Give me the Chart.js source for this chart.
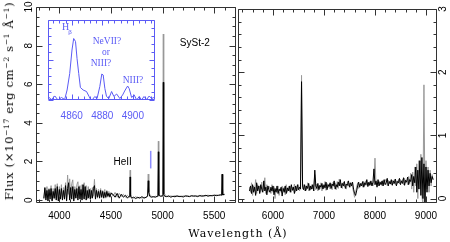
<!DOCTYPE html>
<html><head><meta charset="utf-8">
<script src="https://cdn.jsdelivr.net/npm/chart.js@4.4.0/dist/chart.umd.min.js"></script>
<style>
html,body{margin:0;padding:0;background:#fff;}
#wrap{position:relative;width:450px;height:242px;overflow:hidden;background:#fff;}
canvas{position:absolute;left:0;top:0;}
.t{position:absolute;white-space:nowrap;color:#000;font-family:'DejaVu Serif',serif;}
#ytitle{left:9px;top:101px;transform:translate(-50%,-50%) rotate(-90deg);font-size:11.5px;letter-spacing:0.7px;}
#xtitle{left:238px;top:233px;transform:translate(-50%,-50%);font-size:11px;letter-spacing:1px;}
sup{font-size:7.5px;vertical-align:0;position:relative;top:-4px;}
</style></head><body>
<div id="wrap">
<canvas id="cL" width="450" height="242"></canvas>
<canvas id="cR" width="450" height="242"></canvas>
<canvas id="cI" width="450" height="242"></canvas>
<div class="t" id="ytitle">Flux (×10<sup>−17</sup> erg cm<sup>−2</sup> s<sup>−1</sup> Å<sup>−1</sup>)</div>
<div class="t" id="xtitle">Wavelength (Å)</div>
</div>
<script>
// ---------- data: left panel (blue spectrum region) ----------
const wlLeft = [
3850,3860,3870,3880,3890,3900,3910,3920,3930,3940,
3950,3960,3970,3980,3990,4000,4010,4020,4030,4040,
4050,4060,4070,4080,4090,4100,4110,4120,4130,4140,
4150,4160,4170,4180,4190,4200,4210,4220,4230,4240,
4250,4260,4270,4280,4290,4300,4310,4320,4330,4340,
4350,4360,4370,4380,4390,4400,4410,4420,4430,4440,
4450,4460,4470,4480,4490,4500,
4520,4540,4560,4580,4600,4620,4640,4660,
4675,4682,4686,4690,
4700,4720,4740,4760,4780,4800,4820,4840,
4855,4861,4866,4875,
4890,4910,4930,4950,
4955,4959,4963,
4980,5000,
5003,5007,5011,
5020,5040,5060,5080,5100,5120,5140,5160,5180,5200,
5220,5240,5260,5280,5300,5320,5340,5360,5380,5400,
5420,5440,5460,5480,5500,5520,5540,5560,
5572,5577,5582,5600];
const fluxLeftBlack = [
0.1,0.65,0.0,0.5,-0.05,0.55,0.05,0.6,-0.05,0.45,
0.1,0.6,0.0,0.7,-0.05,0.55,0.05,0.6,0.0,0.5,
0.05,0.75,-0.05,0.6,0.9,0.0,0.65,0.05,0.7,-0.05,
0.55,0.1,0.6,0.0,0.7,0.05,0.55,0.0,0.8,0.05,
0.7,0.0,0.5,0.1,0.55,0.05,0.5,0.1,0.6,0.75,
0.05,0.5,0.15,0.45,0.1,0.5,0.15,0.45,0.1,0.4,
0.15,0.45,0.2,0.35,0.15,0.35,
0.3,0.15,0.35,0.1,0.3,0.15,0.25,0.1,
0.2,0.25,1.2,0.2,
0.1,0.15,0.08,0.15,0.1,0.18,0.1,0.15,
0.2,1.0,0.4,0.2,
0.15,0.18,0.15,0.2,
0.25,2.5,0.25,
0.2,0.22,
0.3,6.1,0.3,
0.2,0.18,0.22,0.15,0.2,0.17,0.22,0.18,0.2,0.16,
0.22,0.2,0.18,0.23,0.2,0.22,0.18,0.24,0.2,0.22,
0.25,0.2,0.24,0.22,0.26,0.23,0.25,0.27,
0.25,1.35,0.28,0.3];
const fluxLeftGray = [
0.05,0.6,0.1,0.7,0.0,0.6,0.2,0.75,0.0,0.6,
0.05,0.8,0.1,0.85,0.0,0.7,0.1,0.8,0.05,0.65,
0.15,0.9,0.0,1.3,0.3,1.1,0.1,0.85,1.05,0.05,
0.7,0.1,0.8,0.95,0.1,0.75,0.05,0.8,0.1,0.9,
0.2,0.75,0.05,0.7,0.15,0.6,0.1,0.65,0.2,1.07,
0.1,0.6,0.1,0.55,0.2,0.6,0.1,0.5,0.2,0.55,
0.1,0.5,0.15,0.45,0.2,0.4,
0.2,0.4,0.15,0.35,0.2,0.3,0.15,0.25,
0.15,0.3,1.55,0.3,
0.15,0.1,0.18,0.1,0.15,0.1,0.15,0.12,
0.25,1.35,0.45,0.3,
0.2,0.15,0.2,0.18,
0.3,3.05,0.3,
0.22,0.2,
0.35,8.6,0.35,
0.3,0.2,0.17,0.22,0.18,0.23,0.19,0.21,0.17,0.22,
0.19,0.23,0.2,0.2,0.24,0.19,0.23,0.2,0.25,0.21,
0.22,0.26,0.21,0.25,0.23,0.27,0.24,0.26,
0.28,1.3,0.26,0.28];

// ---------- data: right panel (red spectrum region) ----------
const wlRight = [
5540,5560,5580,5600,5620,5640,5660,5680,5700,5720,
5740,5760,5780,5800,5820,5840,5860,5880,5900,5920,
5940,5960,5980,6000,6020,6040,6060,6080,6100,6120,
6140,6160,6180,6200,6220,6240,6260,6280,6300,6320,
6340,6360,6380,6400,6420,6440,6460,6480,6500,6520,
6540,6560,6580,6600,6620,6640,6660,6680,6700,6720,
6740,6760,6780,6800,6820,6840,6860,6880,6900,6920,
6940,6960,6980,7000,7020,7040,7060,7080,7100,7120,
7140,7160,7180,7200,7220,7240,7260,7280,7300,7320,
7340,7360,7380,7400,7420,7440,7460,7480,7500,7520,
7540,7560,7580,7600,7620,7640,7660,7680,7700,7720,
7740,7760,7780,7800,7820,7840,7860,7880,7900,7920,
7940,7960,7980,8000,8020,8040,8060,8080,8100,8120,
8140,8160,8180,8200,8220,8240,8260,8280,8300,8320,
8340,8360,8380,8400,8420,8440,8460,8480,8500,8520,
8540,8560,8580,8600,8620,8640,8660,8680,8700,8720,
8740,8760,8780,8800,8820,8840,8860,8880,8900,8920,
8940,8960,8980,9000,9020,9040,9060,9080,9100,9120,
9140];
const fluxRightBlack = [
0.12,0.2,0.08,0.22,0.1,0.18,0.05,0.25,0.12,0.2,
0.08,0.22,0.15,0.1,0.28,0.12,0.18,0.06,0.2,0.14,
0.1,0.18,0.12,0.2,0.06,0.16,0.1,0.2,0.08,0.15,
0.12,0.18,0.04,0.16,0.1,0.2,0.08,0.17,0.12,0.2,
0.1,0.22,0.13,0.18,0.08,0.2,0.12,0.22,0.14,0.18,
0.15,1.85,0.2,0.14,0.22,0.12,0.2,0.16,0.24,0.13,
0.2,0.15,0.22,0.12,0.45,0.2,0.16,0.24,0.14,0.21,
0.18,0.24,0.15,0.22,0.17,0.26,0.14,0.22,0.19,0.25,
0.16,0.23,0.2,0.28,0.15,0.22,0.18,0.26,0.2,0.3,
0.17,0.24,0.2,0.27,0.16,0.23,0.21,0.28,0.18,0.25,
0.2,0.26,0.15,0.08,0.05,0.12,0.2,0.26,0.18,0.24,
0.2,0.27,0.18,0.25,0.22,0.3,0.19,0.26,0.21,0.28,
0.2,0.26,0.47,0.22,0.28,0.18,0.3,0.2,0.26,0.22,
0.28,0.2,0.3,0.22,0.25,0.32,0.2,0.27,0.23,0.3,
0.21,0.28,0.24,0.31,0.2,0.27,0.25,0.32,0.22,0.28,
0.24,0.33,0.21,0.29,0.26,0.34,0.22,0.3,0.27,0.38,
0.2,0.35,0.25,0.5,0.1,0.45,0.15,0.6,0.05,0.65,
0.0,0.55,-0.1,0.5,0.1,0.45,0.2,0.4,0.25,0.35,
0.3];
const fluxRightGray = [
0.18,0.1,0.25,0.05,0.2,0.12,0.3,0.08,0.22,0.15,
0.2,0.1,0.26,0.12,0.18,0.33,0.08,0.22,0.1,0.2,
0.15,0.08,0.22,0.1,0.19,0.0,0.14,0.1,0.2,0.05,
0.16,0.1,0.2,0.12,0.18,0.06,0.22,0.1,0.16,0.12,
0.2,0.1,0.18,0.14,0.23,0.1,0.19,0.13,0.22,0.12,
0.2,1.95,0.15,0.22,0.12,0.2,0.14,0.25,0.12,0.2,
0.14,0.22,0.15,0.2,0.38,0.14,0.23,0.12,0.2,0.15,
0.25,0.12,0.21,0.16,0.27,0.13,0.24,0.17,0.23,0.15,
0.24,0.14,0.26,0.18,0.25,0.14,0.27,0.16,0.31,0.2,
0.24,0.16,0.26,0.19,0.23,0.15,0.27,0.2,0.24,0.18,
0.25,0.18,0.1,0.02,0.1,0.18,0.25,0.16,0.23,0.2,
0.25,0.18,0.27,0.2,0.28,0.21,0.25,0.2,0.27,0.22,
0.25,0.2,0.3,0.64,0.22,0.26,0.2,0.28,0.22,0.27,
0.2,0.29,0.23,0.27,0.31,0.21,0.29,0.24,0.28,0.22,
0.29,0.23,0.3,0.22,0.28,0.24,0.3,0.23,0.3,0.25,
0.3,0.22,0.32,0.25,0.28,0.22,0.35,0.24,0.4,0.15,
0.42,0.1,0.5,0.2,0.55,0.0,0.6,0.15,0.7,0.05,
-0.1,1.8,-0.05,0.6,0.15,0.5,0.1,0.45,0.2,0.38,
0.3];

// ---------- data: inset (H-beta region) ----------
const wlInset = [4844.5,4846.7,4849,4851,4853.3,4855.4,4857,4858.7,4860.2,4861.3,
4862.5,4863.5,4864.6,4865.7,4867.5,4869.7,4871.4,4872.9,4875.1,4876.6,
4878.4,4879.7,4880.6,4881.7,4882.8,4884.3,4886.1,4887.6,4889.4,4891.5,
4893.3,4895,4896.6,4897.6,4899.2,4900.9,4902.5,4904.2,4905.7,4907.3,
4909,4910.7,4912.3,4913.8];
const fluxInset = [0.07,0.01,0.08,0.0,0.05,0.01,0.2,0.53,1.0,1.23,
1.17,0.83,0.53,0.25,0.2,0.17,0.07,-0.02,0.07,0.03,
0.27,0.52,0.5,0.23,0.07,0.03,0.17,0.07,0.12,0.03,
0.1,0.2,0.28,0.23,0.05,0.1,0.0,0.07,0.0,0.07,
0.01,0.08,0.03,0.05];

// blue marker of the inset region on the main plot
const markerWl = [4885, 4885];
const markerFlux = [1.64, 2.55];

// tick labels
const leftXTicks = [4000, 4500, 5000, 5500];
const leftYTicks = [0, 2, 4, 6, 8, 10];
const rightXTicks = [6000, 7000, 8000, 9000];
const rightYTicks = [0, 1, 2, 3];
const insetXTicks = [4860, 4880, 4900];

const pts = (xs, ys) => xs.map((x, i) => ({x: x, y: ys[i]}));

// ---------- plugins ----------
const framePlugin = {
  id: 'frame',
  afterDatasetsDraw(chart, args, o) {
    if (!o || !o.color) return;
    const ctx = chart.ctx, a = chart.chartArea;
    const xs = chart.scales.x, ys = chart.scales.y;
    const L = a.left + 0.5, R = a.right - 0.5, T = a.top + 0.5, B = a.bottom - 0.5;
    ctx.save();
    ctx.strokeStyle = o.color; ctx.lineWidth = 1;
    ctx.beginPath();
    ctx.rect(L, T, R - L, B - T);
    const isMul = (v, s) => Math.abs(v / s - Math.round(v / s)) < 1e-6;
    for (let k = Math.ceil(xs.min / o.xMinor - 1e-9); k * o.xMinor <= xs.max + 1e-9; k++) {
      const v = k * o.xMinor;
      const p = Math.round(xs.getPixelForValue(v)) + 0.5;
      const len = isMul(v, o.xMajor) ? o.major : o.minor;
      ctx.moveTo(p, B); ctx.lineTo(p, B - len);
      ctx.moveTo(p, T); ctx.lineTo(p, T + len);
    }
    for (let k = Math.ceil(ys.min / o.yMinor - 1e-9); k * o.yMinor <= ys.max + 1e-9; k++) {
      const v = k * o.yMinor;
      const p = Math.round(ys.getPixelForValue(v)) + 0.5;
      const len = isMul(v, o.yMajor) ? o.major : o.minor;
      ctx.moveTo(L, p); ctx.lineTo(L + len, p);
      ctx.moveTo(R, p); ctx.lineTo(R - len, p);
    }
    ctx.stroke();
    ctx.restore();
  }
};
const textPlugin = {
  id: 'notes',
  afterDatasetsDraw(chart, args, o) {
    if (!o || !o.items) return;
    const ctx = chart.ctx, xs = chart.scales.x, ys = chart.scales.y;
    ctx.save();
    o.items.forEach(it => {
      ctx.font = it.font; ctx.fillStyle = it.color;
      ctx.textAlign = 'center'; ctx.textBaseline = 'middle';
      ctx.fillText(it.text, xs.getPixelForValue(it.x), ys.getPixelForValue(it.y));
    });
    ctx.restore();
  }
};
const bgPlugin = {
  id: 'bg',
  beforeDraw(chart, args, o) {
    if (!o || !o.color) return;
    const c = chart.chartArea, ctx = chart.ctx;
    ctx.save(); ctx.fillStyle = o.color;
    ctx.fillRect(c.left, c.top, c.right - c.left, c.bottom - c.top);
    ctx.restore();
  }
};

const tickFont = {family: "'Liberation Sans', Arial, sans-serif", size: 10};
function xAxis(min, max, list, h, pad, color) {
  return {
    type: 'linear', position: 'bottom', min: min, max: max,
    afterBuildTicks: s => { s.ticks = list.map(v => ({value: v})); },
    afterFit: s => { s.height = h; },
    grid: {display: false, drawTicks: false}, border: {display: false},
    ticks: {callback: v => String(v), padding: pad, font: tickFont, color: color, maxRotation: 0, minRotation: 0, autoSkip: false}
  };
}
function yAxis(min, max, list, pos, w, pad) {
  return {
    type: 'linear', position: pos, min: min, max: max,
    afterBuildTicks: s => { s.ticks = list.map(v => ({value: v})); },
    afterFit: s => { s.width = w; },
    grid: {display: false, drawTicks: false}, border: {display: false},
    ticks: {callback: v => String(v), padding: pad, font: tickFont, color: '#000', minRotation: 90, maxRotation: 90, crossAlign: 'center', autoSkip: false}
  };
}
const common = {
  responsive: false, animation: false, events: [],
  elements: {point: {radius: 0}, line: {tension: 0, borderJoinStyle: 'miter'}},
  datasets: {line: {clip: 0}}
};

new Chart(document.getElementById('cL'), {
  type: 'line',
  data: {datasets: [
    {data: pts(wlLeft, fluxLeftBlack), borderColor: '#000', borderWidth: 1},
    {data: pts(markerWl, markerFlux), borderColor: '#8c8cff', borderWidth: 1.5},
    {data: pts(wlLeft, fluxLeftGray), borderColor: '#999', borderWidth: 1}
  ]},
  options: Object.assign({}, common, {
    layout: {padding: {left: 0, right: 214, top: 4, bottom: 0}},
    plugins: {
      legend: {display: false}, tooltip: {enabled: false},
      frame: {color: '#333', xMinor: 100, xMajor: 500, yMinor: 0.5, yMajor: 2, major: 6, minor: 3},
      notes: {items: [
        {text: 'SySt-2', x: 5312, y: 8.1, font: "10px 'Liberation Sans'", color: '#000'},
        {text: 'HeII', x: 4614, y: 1.94, font: "10px 'Liberation Sans'", color: '#000'}
      ]}
    },
    scales: {
      x: xAxis(3774, 5711, leftXTicks, 39, 7, '#000'),
      y: yAxis(-0.15, 10, leftYTicks, 'left', 36, 1)
    }
  }),
  plugins: [framePlugin, textPlugin]
});

new Chart(document.getElementById('cR'), {
  type: 'line',
  data: {datasets: [
    {data: pts(wlRight, fluxRightBlack), borderColor: '#000', borderWidth: 1},
    {data: pts(wlRight, fluxRightGray), borderColor: '#999', borderWidth: 1}
  ]},
  options: Object.assign({}, common, {
    layout: {padding: {left: 238, right: 0, top: 4, bottom: 0}},
    plugins: {
      legend: {display: false}, tooltip: {enabled: false},
      frame: {color: '#333', xMinor: 200, xMajor: 1000, yMinor: 0.2, yMajor: 1, major: 6, minor: 3}
    },
    scales: {
      x: xAxis(5314, 9216, rightXTicks, 39, 7, '#000'),
      y: yAxis(-0.07, 3.0, rightYTicks, 'right', 13, 3)
    }
  }),
  plugins: [framePlugin]
});

const blue = '#5b5bf5';
new Chart(document.getElementById('cI'), {
  type: 'line',
  data: {datasets: [
    {data: pts(wlInset, fluxInset), borderColor: blue, borderWidth: 1}
  ]},
  options: Object.assign({}, common, {
    layout: {padding: {left: 48, right: 295, top: 20, bottom: 0}},
    plugins: {
      legend: {display: false}, tooltip: {enabled: false},
      bg: {color: '#fff'},
      frame: {color: blue, xMinor: 4, xMajor: 20, yMinor: 0.16, yMajor: 0.8, major: 5, minor: 3},
      notes: {items: [
        {text: 'H', x: 4856, y: 1.46, font: "10px 'Liberation Serif'", color: blue},
        {text: 'β', x: 4858.9, y: 1.36, font: "7px 'Liberation Serif'", color: blue},
        {text: 'NeVII?', x: 4883.1, y: 1.17, font: "9.5px 'Liberation Serif'", color: blue},
        {text: 'or', x: 4882.4, y: 0.96, font: "9.5px 'Liberation Serif'", color: blue},
        {text: 'NIII?', x: 4879.2, y: 0.73, font: "9.5px 'Liberation Serif'", color: blue},
        {text: 'NIII?', x: 4900.1, y: 0.4, font: "9.5px 'Liberation Serif'", color: blue}
      ]}
    },
    scales: {
      x: xAxis(4844.5, 4914.5, insetXTicks, 142, 10, blue),
      y: {type: 'linear', display: false, min: 0, max: 1.6}
    }
  }),
  plugins: [bgPlugin, framePlugin, textPlugin]
});
</script>
</body></html>
